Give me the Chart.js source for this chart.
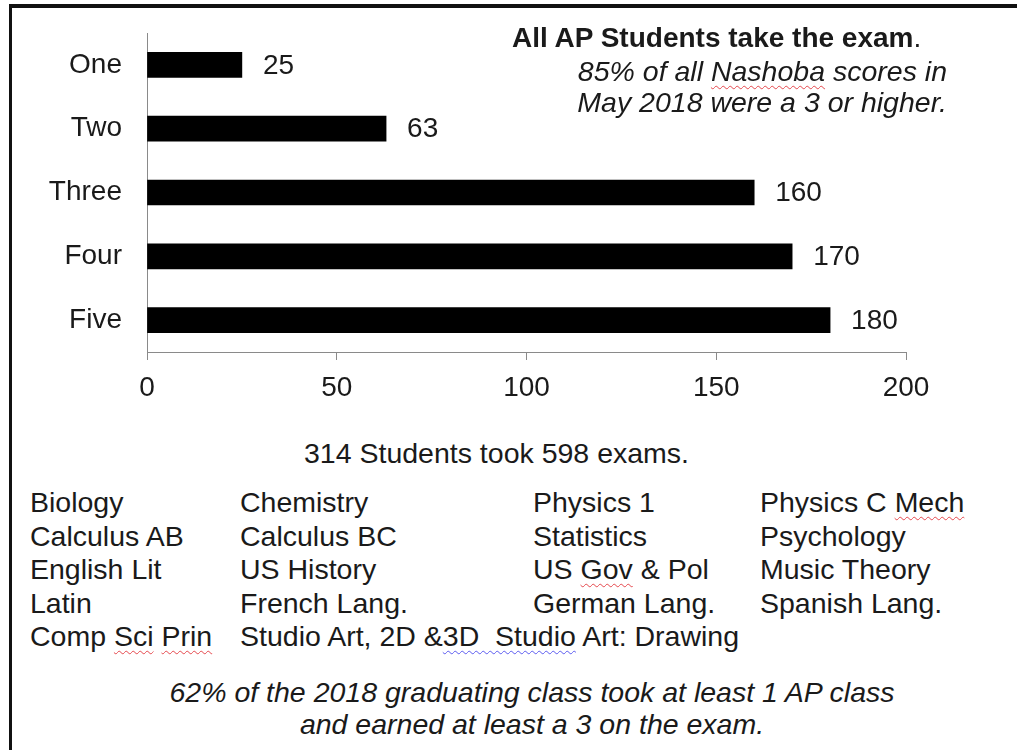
<!DOCTYPE html>
<html>
<head>
<meta charset="utf-8">
<script src="https://cdn.jsdelivr.net/npm/chart.js@4.4.1/dist/chart.umd.min.js"></script>
<style>
  html, body { margin: 0; padding: 0; background: #fff; }
  body { width: 1017px; height: 750px; position: relative; overflow: hidden;
         font-family: "Liberation Sans", Arial, sans-serif; color: #1a1a1a; }
  #frame { position: absolute; left: 9px; top: 4px; width: 1020px; height: 743px;
           border-left: 3px solid #111; border-top: 4px solid #111; border-bottom: 1px solid #b5b5b5; }
  #chartWrap { position: absolute; left: 0; top: 0; width: 1017px; height: 420px; }
  .t { position: absolute; white-space: pre; font-size: 28.5px; }
  .sq { text-decoration: underline wavy #e5484d; text-decoration-thickness: 1px; text-underline-offset: 4px; }
  .sqb { text-decoration: underline wavy #5b5bf0; text-decoration-thickness: 1px; text-underline-offset: 4px; }
</style>
</head>
<body>
<div id="frame"></div>
<div id="chartWrap"><canvas id="c" width="1017" height="420"></canvas></div>

<div class="t" id="title" style="left:512px; top:21px; line-height:34px; font-size:28px;"><b>All AP Students take the exam</b>.</div>
<div class="t" id="sub" style="right:70px; top:56px; line-height:31px; font-style:italic; text-align:right;"></div>
<div class="t" id="took" style="left:0; width:993px; top:436px; line-height:34px; text-align:center;"></div>
<div id="courses"></div>
<div class="t" id="foot" style="left:0; width:1064px; top:676px; line-height:32px; font-style:italic; text-align:center;"></div>

<script>
// ---- data ----
const scoreLabels = ['One', 'Two', 'Three', 'Four', 'Five'];
const scoreCounts = [25, 63, 160, 170, 180];
const xMin = 0;
const xMax = 200;
const xStep = 50;

const subtitleLines = ['85% of all <span class="sq">Nashoba</span> scores in', 'May 2018 were a 3 or higher.'];
const tookLine = '314 Students took 598 exams.';
const courseCol1 = ['Biology', 'Calculus AB', 'English Lit', 'Latin', 'Comp <span class="sq">Sci</span> <span class="sq">Prin</span>'];
const courseCol2 = ['Chemistry', 'Calculus BC', 'US History', 'French Lang.', 'Studio Art, 2D &amp;<span class="sqb">3D  Studio</span> Art: Drawing'];
const courseCol3 = ['Physics 1', 'Statistics', 'US <span class="sq">Gov</span> &amp; Pol', 'German Lang.'];
const courseCol4 = ['Physics C <span class="sq">Mech</span>', 'Psychology', 'Music Theory', 'Spanish Lang.'];
const footLines = ['62% of the 2018 graduating class took at least 1 AP class', 'and earned at least a 3 on the exam.'];

// ---- text blocks ----
document.getElementById('sub').innerHTML = subtitleLines.join('<br>');
document.getElementById('took').textContent = tookLine;
document.getElementById('foot').innerHTML = footLines.join('<br>');
const colX = [30, 240, 533, 760];
[courseCol1, courseCol2, courseCol3, courseCol4].forEach((col, i) => {
  const d = document.createElement('div');
  d.className = 't';
  d.style.left = colX[i] + 'px';
  d.style.top = '486px';
  d.style.lineHeight = '33.5px';
  d.innerHTML = col.join('<br>');
  document.getElementById('courses').appendChild(d);
});

// ---- chart ----
const FONT = '"Liberation Sans", Arial, sans-serif';
const valueLabels = {
  id: 'valueLabels',
  afterDatasetsDraw(chart) {
    const ctx = chart.ctx;
    const meta = chart.getDatasetMeta(0);
    ctx.save();
    ctx.font = '28px ' + FONT;
    ctx.fillStyle = '#1a1a1a';
    ctx.textAlign = 'left';
    ctx.textBaseline = 'middle';
    meta.data.forEach((bar, i) => {
      ctx.fillText(String(chart.data.datasets[0].data[i]), bar.x + 21, bar.y + 1);
    });
    ctx.restore();
  }
};

new Chart(document.getElementById('c'), {
  type: 'bar',
  data: {
    labels: scoreLabels,
    datasets: [{
      data: scoreCounts,
      backgroundColor: '#000',
      borderWidth: 0,
      barThickness: 25
    }]
  },
  options: {
    indexAxis: 'y',
    responsive: false,
    animation: false,
    events: [],
    devicePixelRatio: 1,
    layout: { padding: { left: 0, top: 33, right: 111, bottom: 0 } },
    plugins: { legend: { display: false }, tooltip: { enabled: false }, title: { display: false } },
    scales: {
      x: {
        min: xMin, max: xMax,
        ticks: { stepSize: xStep, color: '#1a1a1a', font: { family: FONT, size: 28 }, padding: 11, maxRotation: 0 },
        grid: { display: true, drawOnChartArea: false, drawTicks: true, tickLength: 8, color: '#8a8a8a', lineWidth: 1 },
        border: { display: true, color: '#8a8a8a', width: 1 },
        afterFit(scale) { scale.height = 68; scale.paddingLeft = 0; scale.paddingRight = 0; }
      },
      y: {
        ticks: { color: '#1a1a1a', font: { family: FONT, size: 28 }, padding: 25 },
        grid: { display: false, drawTicks: false },
        border: { display: true, color: '#8a8a8a', width: 1 },
        afterFit(scale) { scale.width = 147; scale.paddingTop = 0; scale.paddingBottom = 0; }
      }
    }
  },
  plugins: [valueLabels]
});
</script>
</body>
</html>
